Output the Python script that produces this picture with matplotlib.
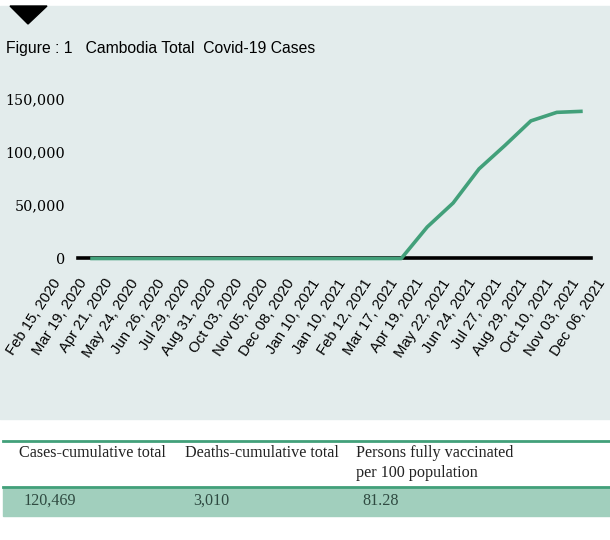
import matplotlib.pyplot as plt
from matplotlib.patches import Polygon, Rectangle

# cumulative cases, one value per label (first and last dates not plotted)
dates = ["Feb 15, 2020", "Mar 19, 2020", "Apr 21, 2020", "May 24, 2020",
         "Jun 26, 2020", "Jul 29, 2020", "Aug 31, 2020", "Oct 03, 2020",
         "Nov 05, 2020", "Dec 08, 2020", "Jan 10, 2021", "Jan 10, 2021",
         "Feb 12, 2021", "Mar 17, 2021", "Apr 19, 2021", "May 22, 2021",
         "Jun 24, 2021", "Jul 27, 2021", "Aug 29, 2021", "Oct 10, 2021",
         "Nov 03, 2021", "Dec 06, 2021"]
cases = [None, 0, 0, 0, 0, 0, 0, 0, 0, 0, 0, 0, 0, 0,
         29500, 52000, 84000, 106000, 129000, 137000, 138000, None]
yticks = [0, 50000, 100000, 150000]

table_headers = ["Cases-cumulative total", "Deaths-cumulative total",
                 "Persons fully vaccinated\nper 100 population"]
table_values = ["120,469", "3,010", "81.28"]

BG = "#e3ecec"
GREEN = "#42a07a"
FILL = "#a1cfbd"

W, H = 610, 540
fig = plt.figure(figsize=(W / 100, H / 100), dpi=100)
fig.patch.set_facecolor("white")


def fx(px):
    return px / W


def fy(py):
    return 1 - py / H


# panel behind the chart
fig.patches.append(Rectangle((0, fy(419)), 1, fy(6) - fy(419),
                             transform=fig.transFigure, color=BG, zorder=-2))
fig.patches.append(Polygon([(fx(10), fy(6)), (fx(47), fy(6)), (fx(28), fy(24))],
                           closed=True, transform=fig.transFigure,
                           color="black", zorder=-1))
fig.text(fx(6), fy(48), "Figure : 1   Cambodia Total  Covid-19 Cases",
         family="Liberation Sans", fontsize=11.3, va="center", ha="left")

# chart axes: category i sits at pixel x0 + i * step
x0, step = 64.3, 25.92
ax_l, ax_r = 50, 610
ax = fig.add_axes([fx(ax_l), fy(258.5), fx(ax_r - ax_l), (160000 * 1.0667 / 1000) / H])
ax.set_zorder(2)
ax.set_facecolor("none")
x = list(range(len(dates)))
pts = [(i, v) for i, v in zip(x, cases) if v is not None]
ax.plot([p[0] for p in pts], [p[1] for p in pts], color=GREEN, lw=2.6,
        solid_capstyle="butt", zorder=3, clip_on=False)
ax.set_xlim((ax_l - x0) / step, (ax_r - x0) / step)
ax.set_ylim(0, 160000)
ax.axhline(0, xmin=(78 - ax_l) / (ax_r - ax_l), xmax=(591 - ax_l) / (ax_r - ax_l),
           color="black", lw=2.6, zorder=2, clip_on=False)
for s in ax.spines.values():
    s.set_visible(False)

# slanted date labels, placed under each category
ax.set_xticks([])
for i, d in zip(x, dates):
    ax.annotate(d, xy=(i, 0), xycoords=("data", "axes fraction"),
                xytext=(-4.5, -15.5), textcoords="offset points",
                rotation=57, ha="right", va="center", rotation_mode="anchor",
                family="Liberation Sans", fontsize=10.7, annotation_clip=False)
ax.set_yticks(yticks)
ax.set_yticklabels([f"{v:,}" for v in yticks], family="DejaVu Serif", fontsize=10.3)
ax.tick_params(axis="y", length=0, pad=-(65 - ax_l) * 0.72)

# summary table below the chart
fig.add_artist(plt.Line2D([fx(3), 1], [fy(441), fy(441)], color=GREEN, lw=2))
fig.patches.append(Rectangle((fx(3), fy(516)), 1 - fx(3), fy(487) - fy(516),
                             transform=fig.transFigure, color=FILL, zorder=-1))
fig.add_artist(plt.Line2D([fx(3), 1], [fy(487), fy(487)], color=GREEN, lw=2))
head_x = [19, 185, 356]
val_x = [24, 193, 362]
for hx, vx, head, val in zip(head_x, val_x, table_headers, table_values):
    fig.text(fx(hx), fy(445), head, family="Liberation Serif", fontsize=11.6,
             color="#222222", va="top", ha="left", linespacing=1.3)
    fig.text(fx(vx), fy(501), val, family="Liberation Serif", fontsize=11.6,
             color="#2f4a41", va="center", ha="left")

fig.savefig("out.png", dpi=100)
